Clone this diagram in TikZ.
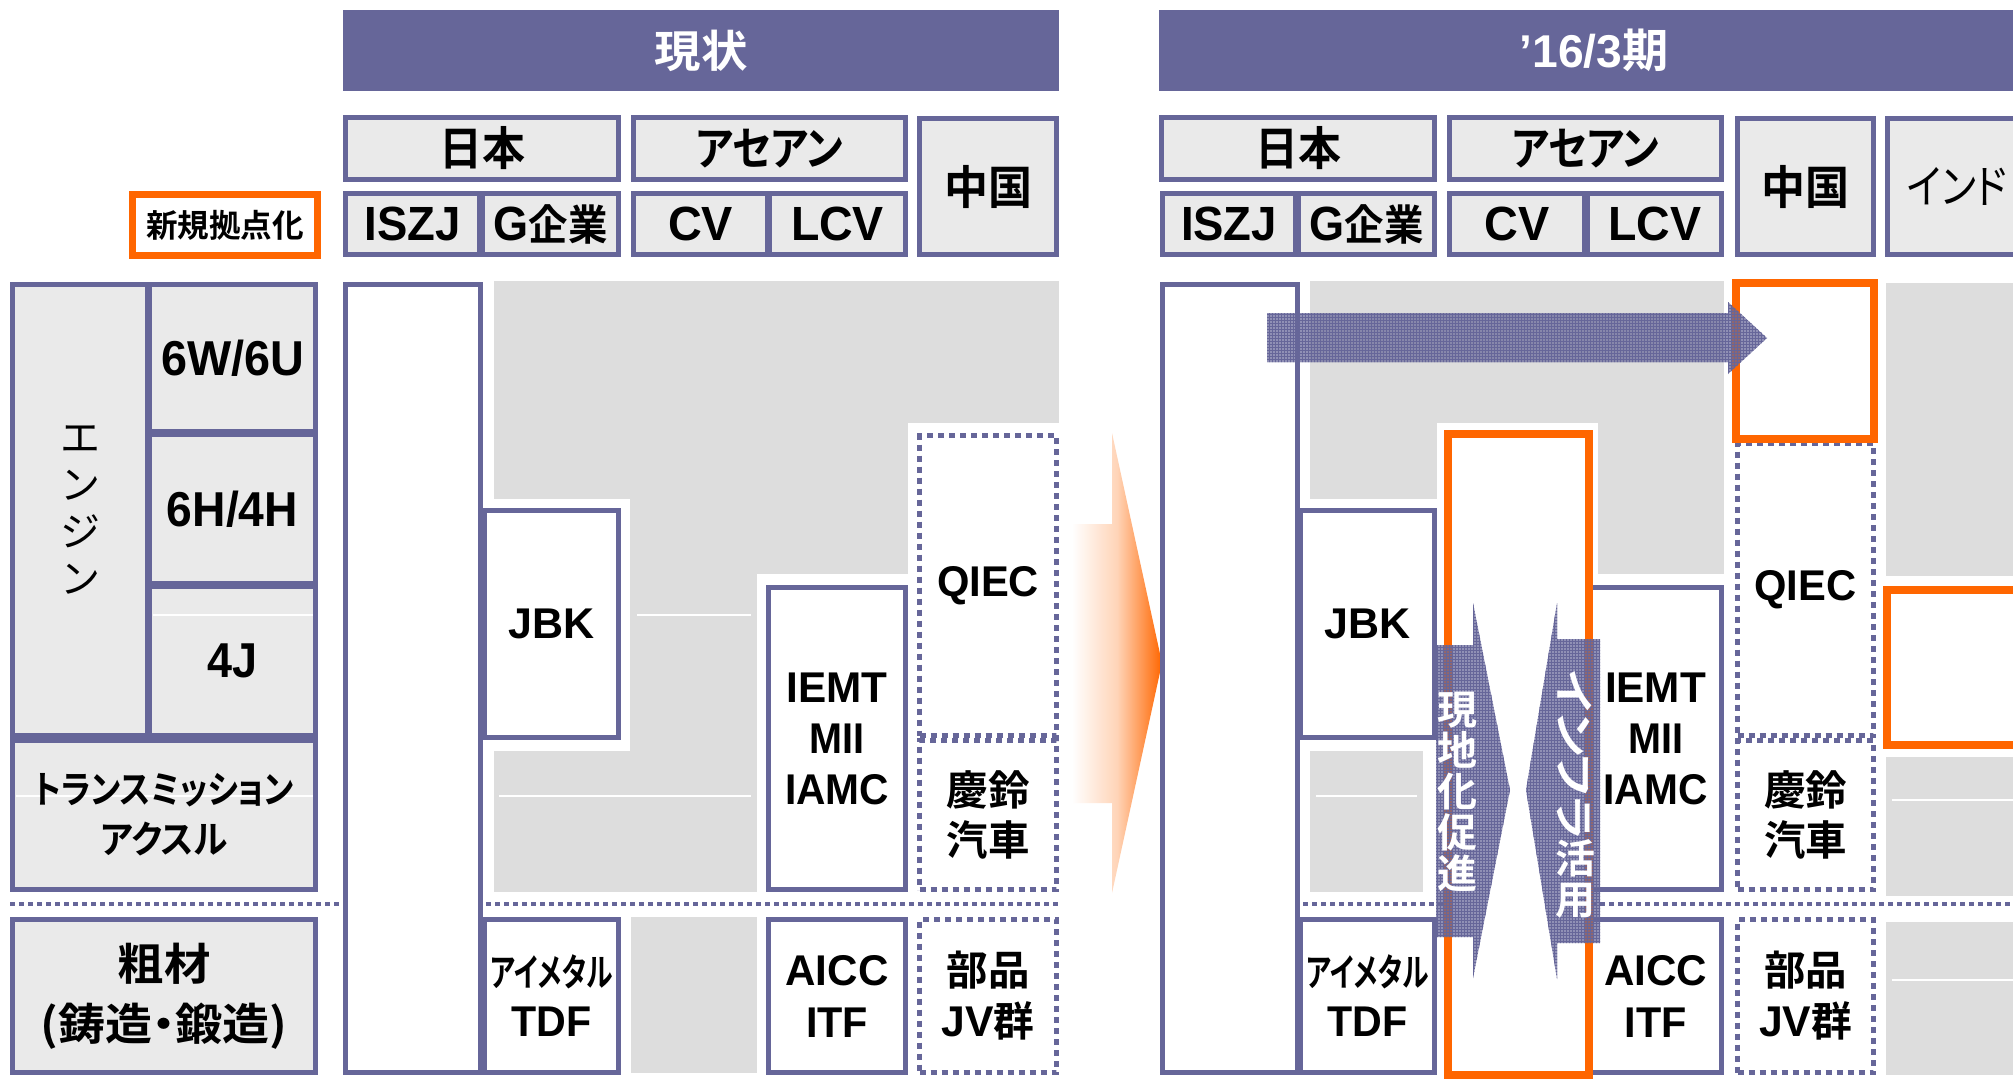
\documentclass[tikz,border=0pt]{standalone}
\usepackage{fontspec}
\usepackage{graphicx}
\setmainfont{Liberation Sans}
\newfontfamily\jp[RawFeature=+palt,BoldFont={Noto Sans CJK JP Bold}]{Noto Sans CJK JP}
\usetikzlibrary{patterns}
\definecolor{bord}{HTML}{666699}
\definecolor{lbox}{HTML}{EAEAEA}
\definecolor{gbg}{HTML}{DDDDDD}
\definecolor{org}{HTML}{FF6600}
\newcommand\W[2]{\resizebox{#1pt}{\height}{#2}}
\newcommand\fs[2]{\fontsize{#1}{#2}\selectfont}
\newcommand\bx[7]{\node[#2, minimum width={#5-#3-5}, minimum height={#6-#4-5}] (#1) at ({(#3+#5)/2},{(#4+#6)/2}) {#7};}
\begin{document}
\begin{tikzpicture}[x=1pt,y=-1pt,
  hbox/.style={draw=bord, line width=5pt, fill=lbox, inner sep=0pt, align=center, font=\bfseries},
  wbox/.style={draw=bord, line width=5pt, fill=white, inner sep=0pt, align=center, font=\bfseries},
  dbox/.style={draw=bord, line width=4.5pt, dash pattern=on 6pt off 5pt, fill=white, inner sep=0pt, align=center, font=\bfseries},
  obox/.style={draw=org, line width=8pt, fill=white, inner sep=0pt, align=center, font=\bfseries},
  tbar/.style={fill=bord, inner sep=0pt, text=white, font=\bfseries},
  sepline/.style={draw=bord, line width=4pt, dash pattern=on 5pt off 4pt},
  seam/.style={draw=white, line width=1.2pt},
  bgray/.style={fill=gbg},
  barrow/.style={fill=bord, fill opacity=0.72, postaction={pattern=grid, pattern color=bord}},
  atext/.style={text=white, font=\jp\bfseries\fs{40}{41}, align=center, inner sep=0pt},
  lat/.style={font=\bfseries\fs{43}{51}},
  latb/.style={font=\bfseries\fs{43}{52}},
  kj/.style={font=\jp\bfseries\fs{41}{50}},
]
\clip (0,0) rectangle (2013,1082);
\fill[white] (0,0) rectangle (2013,1082);

% title bars
\node[tbar, minimum width=716, minimum height=81] (t1) at (701,50.5) {\jp\fs{44}{50}\W{93}{現状}};
\node[tbar, minimum width=870, minimum height=81] (t2) at (1594,50.5) {\fs{46}{50}\W{149}{’16/3{\jp 期}}};

% headers panel 1
\bx{jp1}{hbox}{343}{115}{621}{182}{\jp\fs{46}{50}\W{86}{日本}}
\bx{as1}{hbox}{631}{115}{908}{182}{\jp\fs{46}{50}\W{148}{アセアン}}
\bx{cn1}{hbox}{917}{116}{1059}{257}{\jp\fs{46}{50}\W{88}{中国}}
\bx{is1}{hbox}{343}{191}{482}{257}{\fs{48}{50}\W{96}{ISZJ}}
\bx{gk1}{hbox}{480}{191}{621}{257}{\fs{48}{50}\W{114}{G{\jp\fs{42}{50}企業}}}
\bx{cv1}{hbox}{631}{191}{770}{257}{\fs{48}{50}\W{65}{CV}}
\bx{lc1}{hbox}{767}{191}{908}{257}{\fs{48}{50}\W{93}{LCV}}

% headers panel 2
\bx{jp2}{hbox}{1159}{115}{1437}{182}{\jp\fs{46}{50}\W{86}{日本}}
\bx{as2}{hbox}{1447}{115}{1724}{182}{\jp\fs{46}{50}\W{148}{アセアン}}
\bx{cn2}{hbox}{1735}{116}{1876}{257}{\jp\fs{46}{50}\W{88}{中国}}
\bx{in2}{hbox}{1885}{116}{2029}{257}{\jp\mdseries\fs{46}{50}\W{100}{インド}}
\bx{is2}{hbox}{1160}{191}{1298}{257}{\fs{48}{50}\W{96}{ISZJ}}
\bx{gk2}{hbox}{1296}{191}{1437}{257}{\fs{48}{50}\W{114}{G{\jp\fs{42}{50}企業}}}
\bx{cv2}{hbox}{1447}{191}{1587}{257}{\fs{48}{50}\W{65}{CV}}
\bx{lc2}{hbox}{1585}{191}{1724}{257}{\fs{48}{50}\W{93}{LCV}}

% legend
\bx{leg}{obox, line width=7pt}{130}{192}{320}{258}{\jp\fs{32}{36}\W{158}{新規拠点化}}

% gray backgrounds panel 1
\fill[bgray] (494,281) rectangle (1059,423);
\fill[bgray] (494,423) rectangle (630,499);
\fill[bgray] (630,423) rectangle (757,892);
\fill[bgray] (757,423) rectangle (908,574);
\fill[bgray] (494,751) rectangle (630,892);
\fill[bgray] (631,917) rectangle (757,1073);
\draw[seam] (637,615) -- (751,615);
\draw[seam] (499,796) -- (751,796);

% gray backgrounds panel 2
\fill[bgray] (1310,281) rectangle (1724,423);
\fill[bgray] (1310,423) rectangle (1437,499);
\fill[bgray] (1598,423) rectangle (1724,574);
\fill[bgray] (1310,751) rectangle (1423,892);
\fill[bgray] (1886,283) rectangle (2013,576);
\fill[bgray] (1886,757) rectangle (2013,896);
\fill[bgray] (1886,922) rectangle (2013,1075);
\draw[seam] (1316,796) -- (1417,796);
\draw[seam] (1892,800) -- (2013,800);
\draw[seam] (1892,980) -- (2013,980);

% left category boxes
\bx{eng}{hbox, font=\jp\mdseries\fs{40}{47}}{10}{282}{150}{738}{エ\\ン\\ジ\\ン}
\bx{w6}{hbox}{147}{282}{318}{434}{\fs{49}{50}\W{143}{6W/6U}}
\bx{h6}{hbox}{147}{432}{318}{586}{\fs{49}{50}\W{131}{6H/4H}}
\bx{j4}{hbox, path picture={\draw[seam] ([xshift=3pt,yshift=46pt]path picture bounding box.west) -- ([xshift=-3pt,yshift=46pt]path picture bounding box.east);}}{147}{584}{318}{738}{\fs{49}{50}\W{50}{4J}}
\bx{tm}{hbox, font=\jp\bfseries\fs{38}{50}, path picture={\draw[seam] ([xshift=3pt,yshift=19pt]path picture bounding box.west) -- ([xshift=-3pt,yshift=19pt]path picture bounding box.east);}}{10}{738}{318}{892}{\W{260}{トランスミッション}\\\W{127}{アクスル}}
\bx{sz}{hbox, font=\jp\bfseries\fs{44}{60}}{10}{917}{318}{1075}{\W{93}{粗材}\\\W{247}{(鋳造・鍛造)}}

% separators
\draw[sepline] (10,904) -- (342,904);
\draw[sepline] (486,904) -- (1061,904);
\draw[sepline] (1303,904) -- (2013,904);

% panel 1 body
\bx{c1}{wbox}{343}{282}{483}{1075}{}
\bx{jbk1}{wbox, lat}{482}{508}{621}{740}{\W{86}{JBK}}
\bx{ie1}{wbox, lat}{766}{585}{908}{892}{\W{101}{IEMT}\\\W{55}{MII}\\\W{104}{IAMC}}
\bx{qi1}{dbox, lat}{917}{433}{1059}{738}{\W{102}{QIEC}}
\bx{ks1}{dbox, kj}{917}{738}{1059}{892}{\W{83}{慶鈴}\\\W{83}{汽車}}
\bx{bh1}{dbox, lat}{917}{917}{1059}{1075}{\W{83}{\jp\fs{41}{51}部品}\\\W{93}{JV{\jp\fs{41}{51}群}}}
\bx{am1}{wbox, font=\bfseries\fs{43}{50}}{482}{917}{621}{1075}{\W{122}{\jp\fs{38}{50}アイメタル}\\\W{80}{TDF}}
\bx{ai1}{wbox, latb}{766}{917}{908}{1075}{\W{103}{AICC}\\\W{62}{ITF}}

% big transition arrow
\shade[left color=white, right color=org, middle color=org!28] (1072,524) -- (1112,524) -- (1112,433) -- (1162,663) -- (1112,893) -- (1112,803) -- (1072,803) -- cycle;

% panel 2 body
\bx{c2}{wbox}{1160}{282}{1300}{1075}{}
\bx{jbk2}{wbox, lat}{1298}{508}{1437}{740}{\W{86}{JBK}}
\bx{ie2}{wbox, lat}{1587}{585}{1724}{892}{\W{101}{IEMT}\\\W{55}{MII}\\\W{104}{IAMC}}
\bx{ai2}{wbox, latb}{1587}{917}{1724}{1075}{\W{103}{AICC}\\\W{62}{ITF}}
\bx{am2}{wbox, font=\bfseries\fs{43}{50}}{1298}{917}{1437}{1075}{\W{122}{\jp\fs{38}{50}アイメタル}\\\W{80}{TDF}}
\bx{qi2}{dbox, lat}{1735}{441}{1876}{738}{\W{102}{QIEC}}
\bx{ks2}{dbox, kj}{1735}{738}{1876}{892}{\W{83}{慶鈴}\\\W{83}{汽車}}
\bx{bh2}{dbox, lat}{1735}{917}{1876}{1075}{\W{83}{\jp\fs{41}{51}部品}\\\W{93}{JV{\jp\fs{41}{51}群}}}
\bx{o1}{obox}{1445}{431}{1591}{1077}{}
\bx{o2}{obox}{1733}{280}{1876}{441}{}
\bx{o3}{obox}{1884}{587}{2030}{747}{}

% arrows in panel 2
\path[barrow] (1267,313) -- (1728,313) -- (1728,302) -- (1767,338) -- (1728,374) -- (1728,362) -- (1267,362) -- cycle;
\path[barrow] (1436,645) -- (1473,645) -- (1473,603) -- (1510,790) -- (1473,978) -- (1473,937) -- (1436,937) -- cycle;
\path[barrow] (1600,639) -- (1557,639) -- (1557,603) -- (1526,790) -- (1557,979) -- (1557,943) -- (1600,943) -- cycle;
\node[atext] (tx1) at (1457,792) {現\\地\\化\\促\\進};
\node[atext] (tx2a) at (1575,755) {\rotatebox{-90}{\W{170}{インフラ}}};
\node[atext] (tx2b) at (1575,879) {活\\用};
\end{tikzpicture}
\end{document}
